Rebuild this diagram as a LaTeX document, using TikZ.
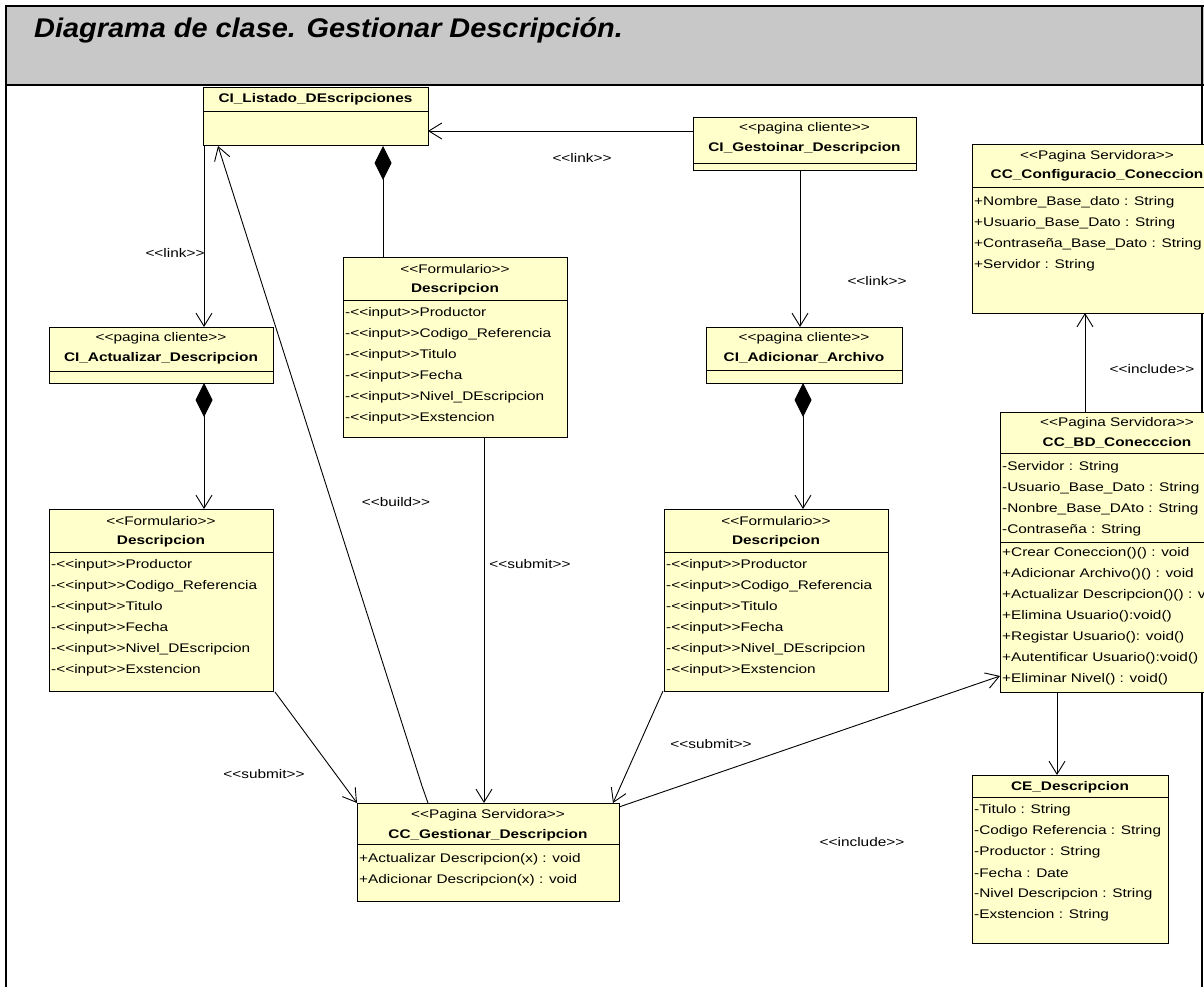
\documentclass[tikz,border=0pt]{standalone}
\usepackage{fontspec}
\setmainfont{Liberation Sans}
\newfontfamily\umlfont[FakeStretch=1.23]{Liberation Sans}
\newfontfamily\headfont[FakeStretch=1.07]{Liberation Sans}
\usetikzlibrary{arrows.meta,calc}
\definecolor{boxfill}{RGB}{255,255,204}
\definecolor{headgray}{RGB}{200,200,200}

% rows of a class compartment: node, offset of first row from top, list
\newcommand\umlrows[3]{%
  \foreach \t [count=\i from 0] in {#3}{%
    \node[attr] (#1-row-#2-\i) at ($(#1.north west)+(2,{#2+21*\i})$) {\t};}}
% compartment separator at a given offset below the top edge
\newcommand\umlsep[2]{%
  \draw[sepline] ($(#1.north west)+(0,#2)$) -- ($(#1.north east)+(0,#2)$);}

\begin{document}
\begin{tikzpicture}[x=1pt,y=-1pt,
  cls/.style={draw=black, line width=1pt, fill=boxfill, anchor=north west,
    inner sep=0pt, outer sep=0pt},
  sepline/.style={line width=0.9pt},
  txt/.style={font=\umlfont\fontsize{12.5}{14}\selectfont, inner sep=0pt},
  stereo/.style={txt},
  cname/.style={font=\umlfont\bfseries\fontsize{12.5}{14}\selectfont, inner sep=0pt},
  attr/.style={txt, anchor=west},
  lbl/.style={txt},
  conn/.style={line width=0.9pt},
  barb/.tip={Straight Barb[length=13pt,width=16pt,line width=0.9pt]},
  nav/.style={conn, -barb},
  comp/.style={conn, {Diamond[length=34pt,width=17pt]}-barb},
  compline/.style={conn, {Diamond[length=34pt,width=17pt]}-},
]
\useasboundingbox (0,0) rectangle (1204,987);
\clip (0,0) rectangle (1204,987);

% page frame and title band
\fill[headgray] (6,6) rectangle (1204,85);
\draw[line width=2pt] (5,6) -- (1204,6);
\draw[line width=2pt] (6,85) -- (1204,85);
\draw[line width=2.5pt] (6,5) -- (6,987);
\draw[line width=2pt] (1202,5) -- (1202,987);
\node[anchor=west, inner sep=0pt,
  font=\headfont\bfseries\itshape\fontsize{27}{32}\selectfont]
  (title) at (34,30) {Diagrama de clase. Gestionar Descripción.};

% ---- classes ----
\node[cls, minimum width=225pt, minimum height=58pt] (listado) at (203,88) {};
\umlsep{listado}{23}
\node[cname] (listado-n) at ($(listado.north)+(0,11.5)$) {CI\_Listado\_DEscripciones};

\node[cls, minimum width=223pt, minimum height=53pt] (gestoinar) at (693,118) {};
\umlsep{gestoinar}{45}
\node[stereo] (gestoinar-s) at ($(gestoinar.north)+(0,10)$) {<<pagina cliente>>};
\node[cname] (gestoinar-n) at ($(gestoinar.north)+(0,30)$) {CI\_Gestoinar\_Descripcion};

\node[cls, minimum width=250pt, minimum height=168pt] (config) at (972,145) {};
\umlsep{config}{42}
\node[stereo] (config-s) at ($(config.north)+(0,11)$) {<<Pagina Servidora>>};
\node[cname] (config-n) at ($(config.north)+(0,30)$) {CC\_Configuracio\_Coneccion};
\umlrows{config}{57}{+Nombre\_Base\_dato : String, +Usuario\_Base\_Dato : String,
  +Contraseña\_Base\_Dato : String, +Servidor : String}

\node[cls, minimum width=224pt, minimum height=56pt] (actualizar) at (49,327) {};
\umlsep{actualizar}{44}
\node[stereo] (actualizar-s) at ($(actualizar.north)+(0,11)$) {<<pagina cliente>>};
\node[cname] (actualizar-n) at ($(actualizar.north)+(0,31)$) {CI\_Actualizar\_Descripcion};

\node[cls, minimum width=224pt, minimum height=180pt] (formMid) at (343,257) {};
\umlsep{formMid}{43}
\node[stereo] (formMid-s) at ($(formMid.north)+(0,12)$) {<<Formulario>>};
\node[cname] (formMid-n) at ($(formMid.north)+(0,32)$) {Descripcion};
\umlrows{formMid}{56}{-<<input>>Productor, -<<input>>Codigo\_Referencia,
  -<<input>>Titulo, -<<input>>Fecha, -<<input>>Nivel\_DEscripcion, -<<input>>Exstencion}

\node[cls, minimum width=196pt, minimum height=56pt] (adicionar) at (706,327) {};
\umlsep{adicionar}{43}
\node[stereo] (adicionar-s) at ($(adicionar.north)+(0,11)$) {<<pagina cliente>>};
\node[cname] (adicionar-n) at ($(adicionar.north)+(0,31)$) {CI\_Adicionar\_Archivo};

\node[cls, minimum width=224pt, minimum height=182pt] (formLeft) at (49,509) {};
\umlsep{formLeft}{43}
\node[stereo] (formLeft-s) at ($(formLeft.north)+(0,12)$) {<<Formulario>>};
\node[cname] (formLeft-n) at ($(formLeft.north)+(0,32)$) {Descripcion};
\umlrows{formLeft}{56}{-<<input>>Productor, -<<input>>Codigo\_Referencia,
  -<<input>>Titulo, -<<input>>Fecha, -<<input>>Nivel\_DEscripcion, -<<input>>Exstencion}

\node[cls, minimum width=224pt, minimum height=182pt] (formRight) at (664,509) {};
\umlsep{formRight}{43}
\node[stereo] (formRight-s) at ($(formRight.north)+(0,12)$) {<<Formulario>>};
\node[cname] (formRight-n) at ($(formRight.north)+(0,32)$) {Descripcion};
\umlrows{formRight}{56}{-<<input>>Productor, -<<input>>Codigo\_Referencia,
  -<<input>>Titulo, -<<input>>Fecha, -<<input>>Nivel\_DEscripcion, -<<input>>Exstencion}

\node[cls, minimum width=234pt, minimum height=280pt] (ccbd) at (1000,412) {};
\umlsep{ccbd}{41}
\umlsep{ccbd}{130}
\node[stereo] (ccbd-s) at ($(ccbd.north)+(0,11)$) {<<Pagina Servidora>>};
\node[cname] (ccbd-n) at ($(ccbd.north)+(0,31)$) {CC\_BD\_Conecccion};
\umlrows{ccbd}{55}{-Servidor : String, -Usuario\_Base\_Dato : String,
  -Nonbre\_Base\_DAto : String, -Contraseña : String}
\umlrows{ccbd}{141}{+Crear Coneccion()() : void, +Adicionar Archivo()() : void,
  +Actualizar Descripcion()() : void, +Elimina Usuario():void(),
  +Registar Usuario(): void(), +Autentificar Usuario():void(), +Eliminar Nivel() : void()}

\node[cls, minimum width=262pt, minimum height=98pt] (gestionar) at (357,803) {};
\umlsep{gestionar}{41}
\node[stereo] (gestionar-s) at ($(gestionar.north)+(0,12)$) {<<Pagina Servidora>>};
\node[cname] (gestionar-n) at ($(gestionar.north)+(0,32)$) {CC\_Gestionar\_Descripcion};
\umlrows{gestionar}{56}{+Actualizar Descripcion(x) : void, +Adicionar Descripcion(x) : void}

\node[cls, minimum width=196pt, minimum height=168pt] (ce) at (972,775) {};
\umlsep{ce}{22}
\node[cname] (ce-n) at ($(ce.north)+(0,12)$) {CE\_Descripcion};
\umlrows{ce}{35}{-Titulo : String, -Codigo Referencia : String, -Productor : String,
  -Fecha : Date, -Nivel Descripcion : String, -Exstencion : String}

% ---- connectors ----
\draw[nav] ($(gestoinar.north west)+(0,13)$) -- ($(listado.north east)+(0,43)$);
\draw[nav] ($(listado.south west)+(1,0)$) -- ($(actualizar.north west)+(155,0)$);
\draw[compline] ($(listado.south west)+(180,0)$) -- ($(formMid.north west)+(40,0)$);
\coordinate (buildbend) at (422,786);
\draw[nav] ($(gestionar.north west)+(71,0)$) -- (buildbend) -- ($(listado.south west)+(15,0)$);
\draw[nav] ($(gestoinar.south west)+(107,0)$) -- ($(adicionar.north west)+(94,0)$);
\draw[comp] ($(actualizar.south west)+(155,0)$) -- ($(formLeft.north west)+(155,0)$);
\draw[comp] ($(adicionar.south west)+(97,0)$) -- ($(formRight.north west)+(139,0)$);
\draw[nav] ($(formMid.south west)+(141,0)$) -- ($(gestionar.north west)+(127,0)$);
\draw[nav] ($(formLeft.south east)+(2,1)$) -- (gestionar.north west);
\draw[nav] ($(formRight.south west)+(-1,0)$) -- ($(gestionar.north east)+(-6,0)$);
\draw[nav] ($(gestionar.north east)+(0,4)$) -- ($(ccbd.south west)+(0,-16)$);
\draw[nav] ($(ccbd.north west)+(85,0)$) -- ($(config.south west)+(113,0)$);
\draw[nav] ($(ccbd.south west)+(57,0)$) -- ($(ce.north west)+(85,0)$);

% ---- connector labels ----
\node[lbl] (l-link1) at (582,158) {<<link>>};
\node[lbl] (l-link2) at (175,253) {<<link>>};
\node[lbl] (l-link3) at (877,281) {<<link>>};
\node[lbl] (l-incl1) at (1152,369) {<<include>>};
\node[lbl] (l-build) at (396,502) {<<build>>};
\node[lbl] (l-sub1) at (530,564) {<<submit>>};
\node[lbl] (l-sub2) at (264,774) {<<submit>>};
\node[lbl] (l-sub3) at (711,744) {<<submit>>};
\node[lbl] (l-incl2) at (862,842) {<<include>>};
\end{tikzpicture}
\end{document}
